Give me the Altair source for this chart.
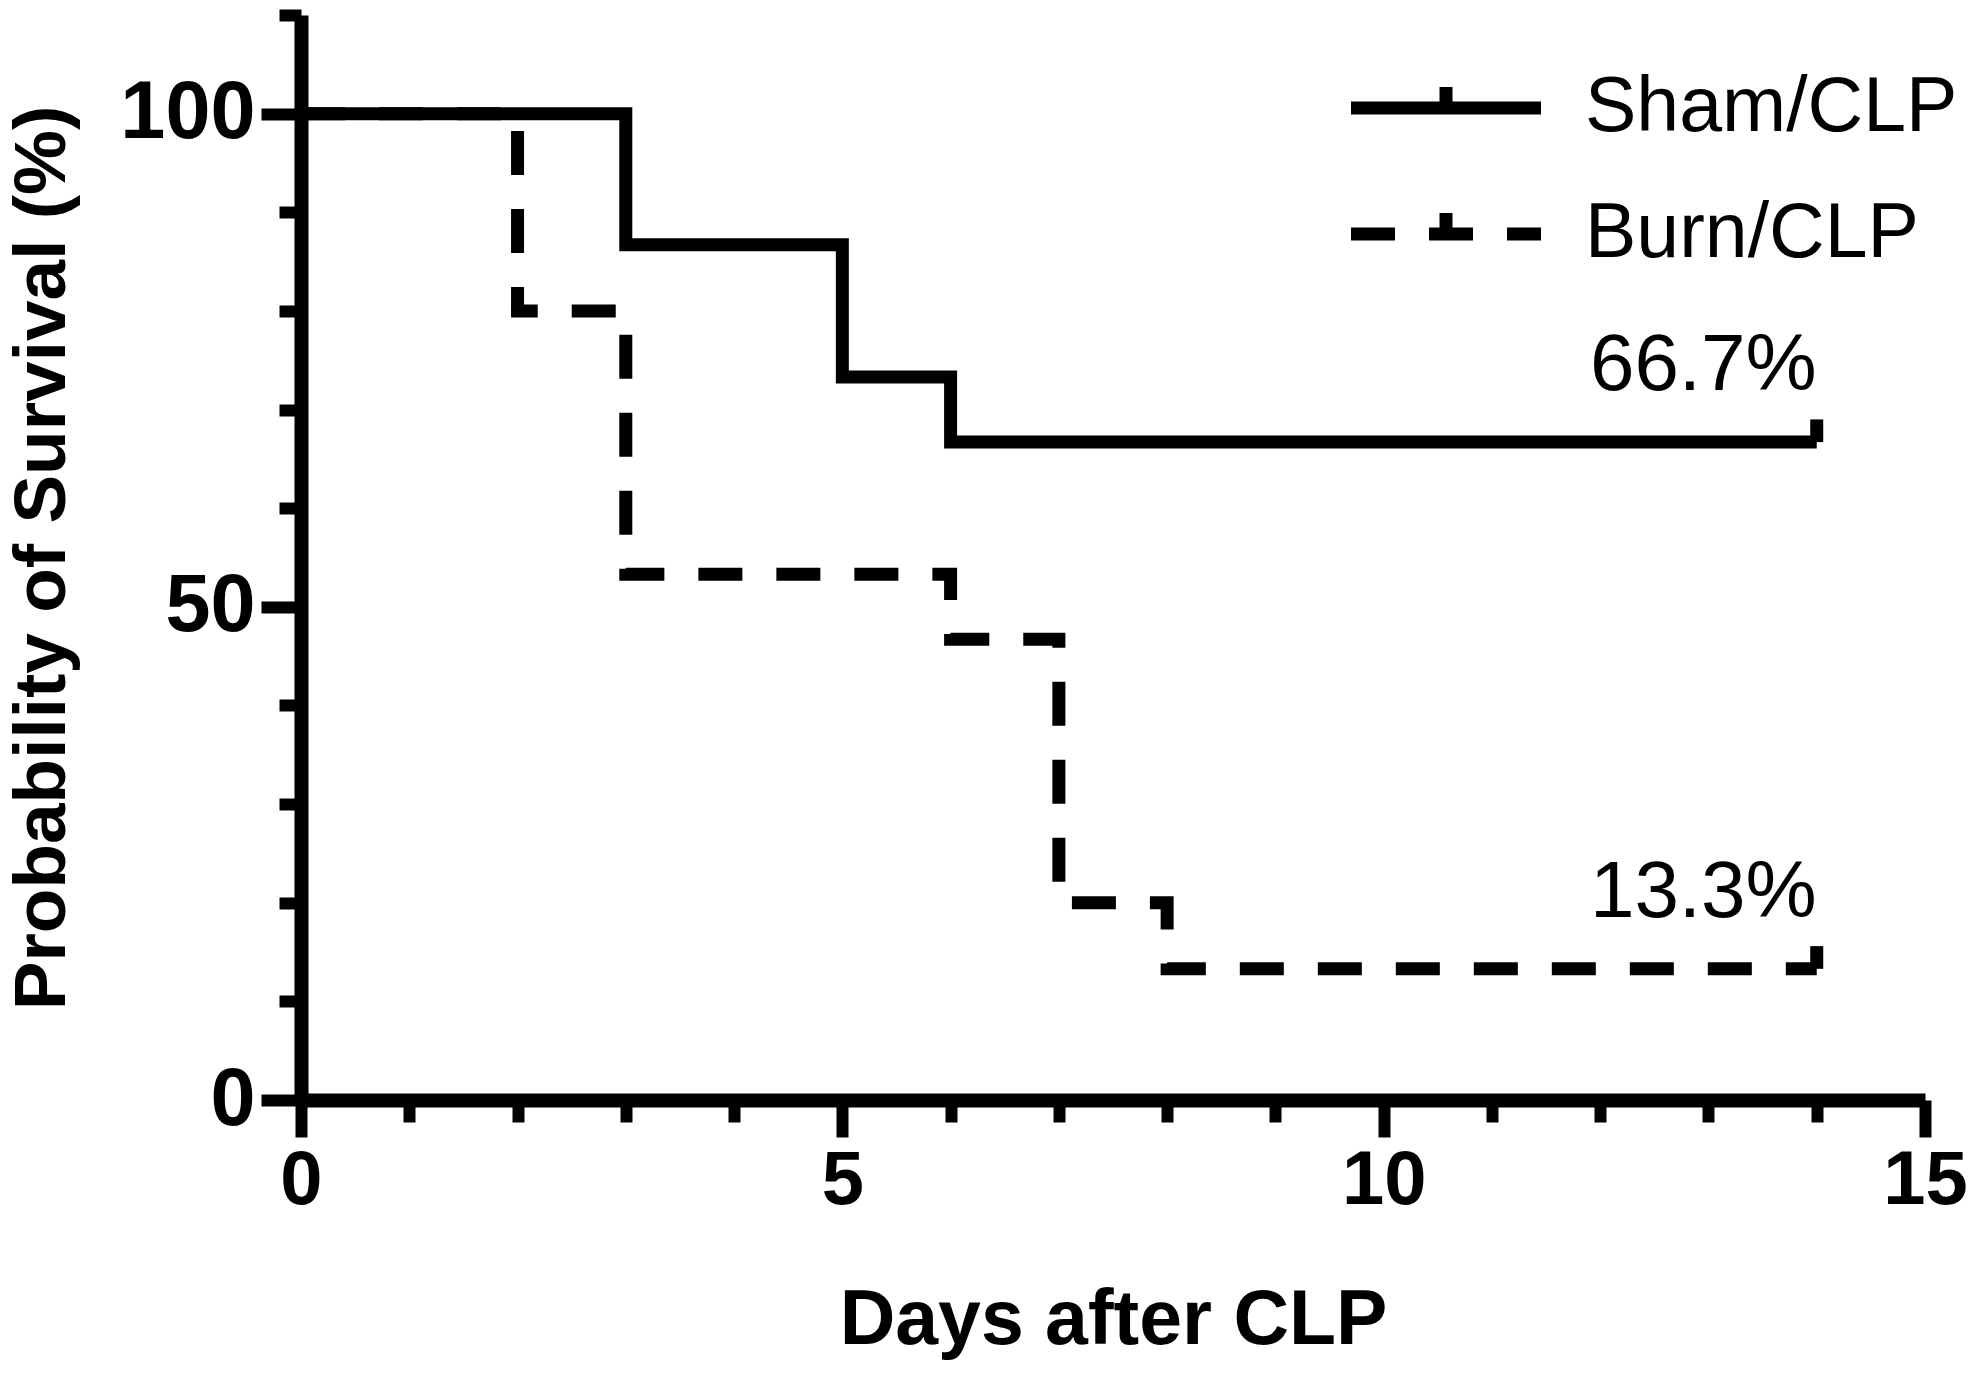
import altair as alt
import pandas as pd

# ---- data ----
groups = ["Sham/CLP", "Burn/CLP"]
sham_days = [0, 3, 5, 6, 14]
sham_survival = [100, 86.7, 73.3, 66.7, 66.7]
burn_days = [0, 2, 3, 6, 7, 8, 14]
burn_survival = [100, 80, 53.3, 46.7, 20, 13.3, 13.3]
censor_days = [14, 14]
censor_survival = [66.7, 13.3]
end_labels = ["66.7%", "13.3%"]
x_ticks = list(range(0, 16))
y_ticks = list(range(0, 111, 10))

curves = pd.DataFrame({
    "group": [groups[0]] * len(sham_days) + [groups[1]] * len(burn_days),
    "day": sham_days + burn_days,
    "survival": sham_survival + burn_survival,
    "order": list(range(len(sham_days))) + list(range(len(burn_days))),
})
ends = pd.DataFrame({
    "group": groups,
    "day": censor_days,
    "survival": censor_survival,
    "label": end_labels,
})

FONT = "Liberation Sans, Arial, sans-serif"
LW = 13

x_scale = alt.Scale(domain=[0, 15], nice=False, zero=False)
y_scale = alt.Scale(domain=[0, 110], nice=False)

x_axis = alt.Axis(
    values=x_ticks, title="Days after CLP", grid=False, format="d",
    labelExpr="datum.value % 5 === 0 ? datum.label : ''",
    tickSize={"condition": {"test": "datum.value % 5 === 0", "value": 37}, "value": 22},
    tickWidth=12, tickColor="black", domainWidth=14, domainColor="black",
    labelFontSize=76, labelFont=FONT, labelFontWeight="bold", labelColor="black",
    labelPadding=6, labelFlush=False, labelOverlap=False,
    titleFontSize=77, titleFont=FONT, titleFontWeight="bold", titleColor="black",
    titlePadding=64,
)
y_axis = alt.Axis(
    values=y_ticks, title="Probability of Survival (%)", grid=False, format="d",
    labelExpr="datum.value % 50 === 0 ? datum.label : ''",
    tickSize={"condition": {"test": "datum.value % 50 === 0", "value": 40}, "value": 22},
    tickWidth=12, tickColor="black", domainWidth=14, domainColor="black",
    labelFontSize=81, labelFont=FONT, labelFontWeight="bold", labelColor="black",
    labelPadding=6, labelFlush=False, labelOverlap=False,
    titleFontSize=73, titleFont=FONT, titleFontWeight="bold", titleColor="black",
    titlePadding=40,
)

# legend symbol: a line with a small censor tick in its middle
legend = alt.Legend(
    title=None, orient="none", legendX=1091, legendY=39,
    symbolType="M0,0V-0.44M-2,0H2", symbolSize=95 * 95,
    symbolStrokeWidth=LW, symbolStrokeColor="black", symbolFillColor="transparent",
    labelFontSize=77, labelFont=FONT, labelColor="black", labelOffset=85,
    labelLimit=800, rowPadding=34, padding=0,
)

lines = alt.Chart(curves).mark_line(
    color="black", strokeWidth=LW, interpolate="step-after"
).encode(
    x=alt.X("day:Q", scale=x_scale, axis=x_axis),
    y=alt.Y("survival:Q", scale=y_scale, axis=y_axis),
    strokeDash=alt.StrokeDash(
        "group:N",
        scale=alt.Scale(domain=groups, range=[[1, 0], [44, 34]]),
        legend=legend,
    ),
    order="order:Q",
)

censor = alt.Chart(ends).transform_calculate(
    top="datum.survival + 2.3"
).mark_rule(color="black", strokeWidth=LW).encode(
    x="day:Q",
    y="survival:Q",
    y2="top:Q",
)

labels = alt.Chart(ends).mark_text(
    align="right", baseline="alphabetic", dy=-52,
    fontSize=80, font=FONT, color="black",
).encode(
    x="day:Q",
    y="survival:Q",
    text="label:N",
)

chart = alt.layer(lines, censor, labels).properties(
    width=1624, height=1085,
    autosize=alt.AutoSizeParams(type="none"),
    padding={"left": 293, "top": 7, "right": 50, "bottom": 262},
    background="white",
).configure_view(stroke=None)

chart.save("out.html", embed_options={"renderer": "svg", "actions": False})
